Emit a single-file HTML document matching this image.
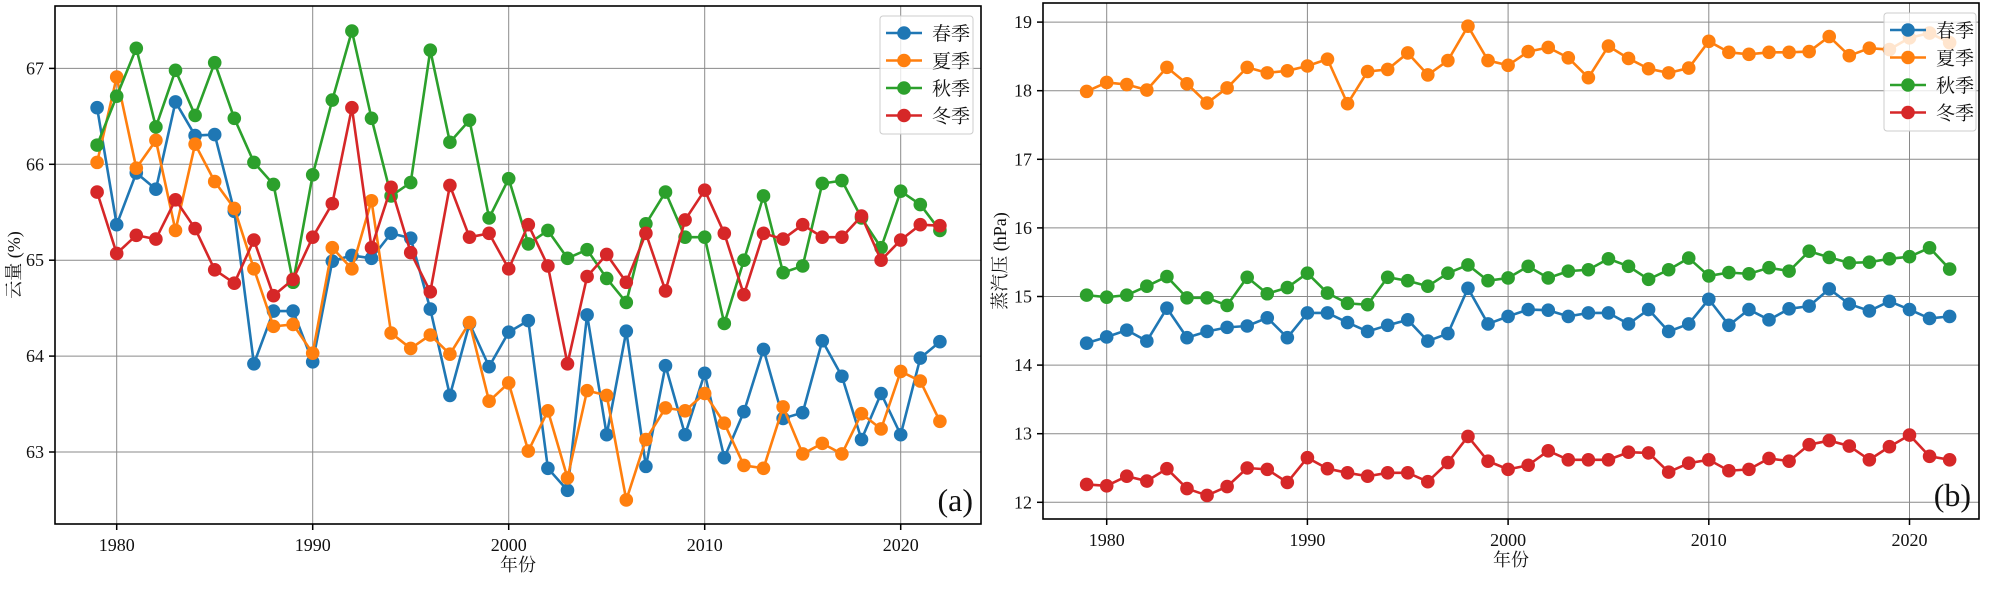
<!DOCTYPE html>
<html><head><meta charset="utf-8"><style>
body{margin:0;background:#fff;}
svg text{font-family:"Liberation Serif","Noto Serif CJK SC","Noto Sans CJK SC",serif;fill:#111;}
</style></head><body>
<svg id="fig" width="2000" height="585" xmlns="http://www.w3.org/2000/svg"></svg>
<script>
const years=[];for(let y=1979;y<=2022;y++)years.push(y);
const seriesNames=["春季","夏季","秋季","冬季"];
const colors=["#1f77b4","#ff7f0e","#2ca02c","#d62728"];
// Chart (a) cloud cover (%)
const cloudSpring=[66.59,65.37,65.91,65.74,66.65,66.30,66.31,65.51,63.92,64.47,64.47,63.94,64.99,65.05,65.02,65.28,65.23,64.49,63.59,64.34,63.89,64.25,64.37,62.83,62.60,64.43,63.18,64.26,62.85,63.90,63.18,63.82,62.94,63.42,64.07,63.35,63.41,64.16,63.79,63.13,63.61,63.18,63.98,64.15];
const cloudSummer=[66.02,66.91,65.96,66.25,65.31,66.21,65.82,65.54,64.91,64.31,64.33,64.03,65.13,64.91,65.62,64.24,64.08,64.22,64.02,64.35,63.53,63.72,63.01,63.43,62.73,63.64,63.59,62.50,63.13,63.46,63.43,63.61,63.30,62.86,62.83,63.47,62.98,63.09,62.98,63.40,63.24,63.84,63.74,63.32];
const cloudAutumn=[66.20,66.71,67.21,66.39,66.98,66.51,67.06,66.48,66.02,65.79,64.77,65.89,66.67,67.39,66.48,65.67,65.81,67.19,66.23,66.46,65.44,65.85,65.17,65.31,65.02,65.11,64.81,64.56,65.38,65.71,65.24,65.24,64.34,65.00,65.67,64.87,64.94,65.80,65.83,65.44,65.13,65.72,65.58,65.31];
const cloudWinter=[65.71,65.07,65.26,65.22,65.63,65.33,64.90,64.76,65.21,64.63,64.80,65.24,65.59,66.59,65.13,65.76,65.08,64.67,65.78,65.24,65.28,64.91,65.37,64.94,63.92,64.83,65.06,64.77,65.28,64.68,65.42,65.73,65.28,64.64,65.28,65.22,65.37,65.24,65.24,65.46,65.00,65.21,65.37,65.36];
const cloudTicks=[63,64,65,66,67];
// Chart (b) vapour pressure (hPa)
const vapSpring=[14.32,14.41,14.51,14.35,14.83,14.40,14.49,14.55,14.57,14.69,14.40,14.76,14.76,14.62,14.49,14.58,14.66,14.35,14.46,15.12,14.60,14.71,14.81,14.80,14.71,14.76,14.76,14.60,14.81,14.49,14.60,14.96,14.58,14.81,14.66,14.82,14.86,15.11,14.89,14.79,14.93,14.81,14.68,14.71];
const vapSummer=[17.99,18.12,18.09,18.01,18.34,18.10,17.82,18.04,18.34,18.26,18.29,18.36,18.46,17.81,18.28,18.31,18.55,18.23,18.44,18.94,18.44,18.37,18.57,18.63,18.48,18.19,18.65,18.47,18.32,18.26,18.33,18.72,18.56,18.53,18.56,18.56,18.57,18.79,18.51,18.62,18.60,18.77,18.84,18.70];
const vapAutumn=[15.02,14.99,15.02,15.15,15.29,14.98,14.98,14.87,15.28,15.04,15.13,15.34,15.05,14.90,14.88,15.28,15.23,15.15,15.34,15.46,15.23,15.27,15.44,15.27,15.37,15.39,15.55,15.44,15.25,15.39,15.56,15.30,15.35,15.33,15.42,15.37,15.66,15.57,15.49,15.50,15.55,15.58,15.71,15.40];
const vapWinter=[12.26,12.24,12.38,12.31,12.49,12.20,12.10,12.23,12.50,12.48,12.29,12.65,12.49,12.43,12.38,12.43,12.43,12.30,12.58,12.96,12.60,12.48,12.54,12.75,12.62,12.62,12.62,12.73,12.72,12.44,12.57,12.62,12.46,12.48,12.64,12.60,12.84,12.90,12.82,12.62,12.81,12.98,12.67,12.62];
const vapTicks=[12,13,14,15,16,17,18,19];
const xTicks=[1980,1990,2000,2010,2020];

const NS="http://www.w3.org/2000/svg";
const svg=document.getElementById('fig');
function mk(tag,attrs,parent){const e=document.createElementNS(NS,tag);for(const k in attrs)e.setAttribute(k,attrs[k]);(parent||svg).appendChild(e);return e;}

function drawChart(cfg){
  const g=mk('g',{});
  
  
  const xs=v=>cfg.x0+(v-cfg.xv0)*cfg.xk;
  const ys=v=>cfg.y0-(v-cfg.yv0)*cfg.yk;
  xTicks.forEach(t=>{
    const l=mk('line',{x1:xs(t),x2:xs(t),y1:cfg.top,y2:cfg.bottom,stroke:'#8a8a8a','stroke-width':1},g);
    
    
    const tk=mk('line',{x1:xs(t),x2:xs(t),y1:cfg.bottom,y2:cfg.bottom+6,stroke:'#000','stroke-width':1.5},g);
    
    
    const tx=mk('text',{x:xs(t),y:cfg.bottom+27,'text-anchor':'middle','font-size':18},g);
    tx.textContent=t;
    
    
  });
  cfg.yTicks.forEach(t=>{
    const l=mk('line',{x1:cfg.left,x2:cfg.right,y1:ys(t),y2:ys(t),stroke:'#8a8a8a','stroke-width':1},g);
    
    
    const tk=mk('line',{x1:cfg.left-6,x2:cfg.left,y1:ys(t),y2:ys(t),stroke:'#000','stroke-width':1.5},g);
    
    
    const tx=mk('text',{x:cfg.left-11,y:ys(t)+6,'text-anchor':'end','font-size':18},g);
    tx.textContent=t;
    
    
  });
  cfg.series.forEach((arr,i)=>{
    const sg=mk('g',{},g);
    
    
    const pts=arr.map((v,j)=>xs(years[j])+','+ys(v)).join(' ');
    const pl=mk('polyline',{points:pts,fill:'none',stroke:colors[i],'stroke-width':2.6,'stroke-linejoin':'round'},sg);
    
    
    arr.forEach((v,j)=>{
      const c=mk('circle',{cx:xs(years[j]),cy:ys(v),r:6.8,fill:colors[i]},sg);
      
      
    });
  });
  const fr=mk('rect',{x:cfg.left,y:cfg.top,width:cfg.right-cfg.left,height:cfg.bottom-cfg.top,fill:'none',stroke:'#000','stroke-width':1.6},g);
  
  
  const lg=mk('g',{},g);
  
  
  const lb=mk('rect',{x:cfg.lx,y:cfg.ly,width:cfg.lw,height:118,rx:3,fill:'rgba(255,255,255,0.8)',stroke:'#cccccc','stroke-width':1},lg);
  
  
  seriesNames.forEach((n,i)=>{
    const yy=cfg.ly+17+i*27.5;
    const e=mk('g',{},lg);
    
    
    mk('line',{x1:cfg.lx+6,x2:cfg.lx+42,y1:yy,y2:yy,stroke:colors[i],'stroke-width':2.6},e);
    mk('circle',{cx:cfg.lx+24,cy:yy,r:6.8,fill:colors[i]},e);
    const t=mk('text',{x:cfg.lx+52,y:yy+7,'font-size':19},e);
    t.textContent=n;
  });
  const pl=mk('text',{x:cfg.right-8,y:cfg.bottom-13,'text-anchor':'end','font-size':32},g);
  pl.textContent=cfg.panel;
  
  
  const xt=mk('text',{x:(cfg.left+cfg.right)/2,y:cfg.bottom+47,'text-anchor':'middle','font-size':18},g);
  xt.textContent='年份';
  
  
  const yt=mk('text',{x:0,y:0,'text-anchor':'middle','font-size':18,transform:`translate(${cfg.ytx},${(cfg.top+cfg.bottom)/2}) rotate(-90)`},g);
  yt.textContent=cfg.ytitle;
  
  
}
drawChart({name:'cloud-chart',left:55,right:981,top:6,bottom:524,x0:116.7,xv0:1980,xk:19.6,y0:452,yv0:63,yk:95.9,
  yTicks:cloudTicks,series:[cloudSpring,cloudSummer,cloudAutumn,cloudWinter],lx:880,ly:16,lw:93,panel:'(a)',ytx:20,ytitle:'云量 (%)'});
drawChart({name:'vapour-chart',left:1043,right:1979,top:3,bottom:519,x0:1106.7,xv0:1980,xk:20.07,y0:502.3,yv0:12,yk:68.6,
  yTicks:vapTicks,series:[vapSpring,vapSummer,vapAutumn,vapWinter],lx:1884,ly:13,lw:92,panel:'(b)',ytx:1006,ytitle:'蒸汽压 (hPa)'});
</script>
</body></html>
